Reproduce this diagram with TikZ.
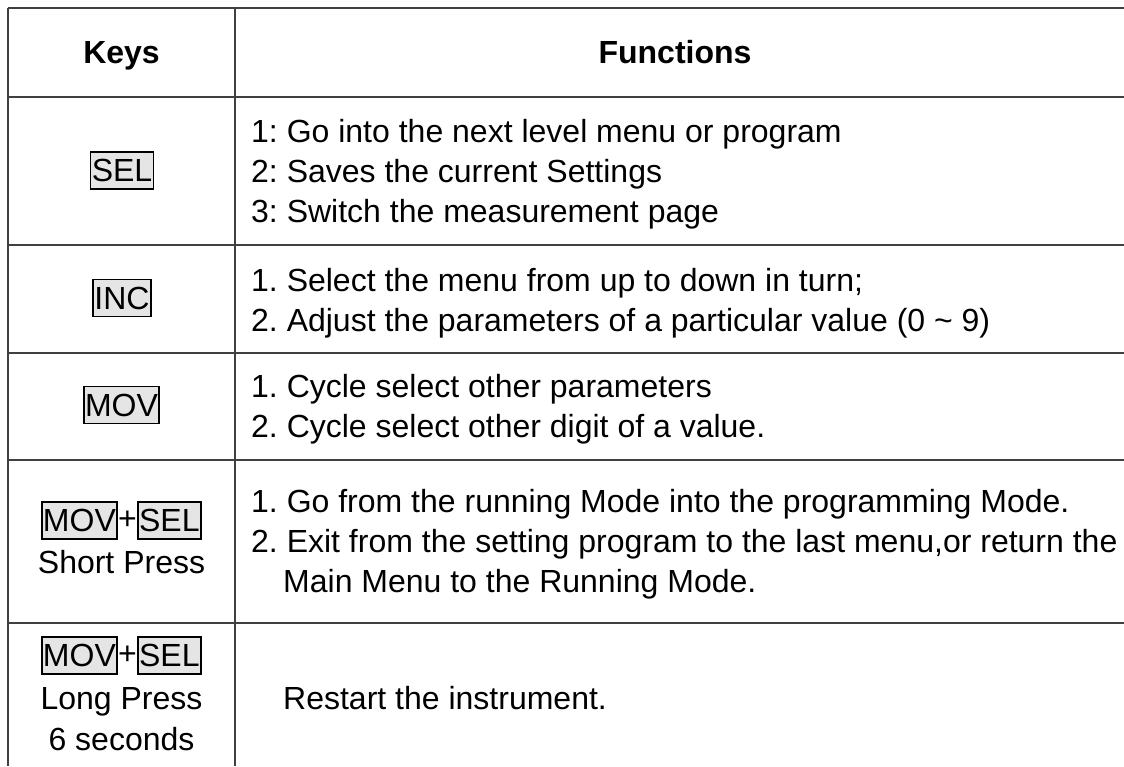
\documentclass[tikz,border=0pt]{standalone}
\usepackage{fontspec}
\setmainfont{Liberation Sans}
\usetikzlibrary{positioning}
\frenchspacing

\tikzset{
  rule/.style={line width=1.6pt, draw=black!75},
  cell/.style={font=\fontsize{32}{40}\selectfont, inner sep=0pt},
  head/.style={cell, font=\fontsize{32}{40}\selectfont\bfseries, anchor=base},
  keytext/.style={cell, anchor=base},
  func/.style={cell, anchor=base west},
  keybox/.style={cell, draw=black, line width=1.8pt, fill=black!10,
    inner xsep=1.2pt, minimum height=37pt},
  plus/.style={cell}
}

\begin{document}
\begin{tikzpicture}[x=1pt, y=-1pt]
  \useasboundingbox (0,0) rectangle (1124,766);
  \fill[white] (0,0) rectangle (1124,766);
  \path (8,8) coordinate (TL) (235,8) coordinate (TM)
        (8,766) coordinate (BL) (235,766) coordinate (BM);
  \foreach \y in {8,97,245,353,460,623}
    \draw[rule] (8,\y) -- (1124,\y);
  \draw[rule] (TL) -- (BL) (TM) -- (BM);

  \node[head] (keys) at (121.5,63) {Keys};
  \node[head] (functions) at (675,63) {Functions};

  \node[keybox] (selkey) at (122,170.5) {SEL};
  \node[func] (sel1) at (251,142) {1: Go into the next level menu or program};
  \node[func] (sel2) at (251,182) {2: Saves the current Settings};
  \node[func] (sel3) at (251,222) {3: Switch the measurement page};

  \node[keybox] (inckey) at (122,298) {INC};
  \node[func] (inc1) at (251,291) {1. Select the menu from up to down in turn;};
  \node[func] (inc2) at (251,331) {2. Adjust the parameters of a particular value (0 \textasciitilde{} 9)};

  \node[keybox] (movkey) at (121.5,405) {MOV};
  \node[func] (mov1) at (251,397) {1. Cycle select other parameters};
  \node[func] (mov2) at (251,437) {2. Cycle select other digit of a value.};

  \node[plus] (plusa) at (127.5,520.5) {+};
  \node[keybox, left=0pt of plusa] (movshort) {MOV};
  \node[keybox, right=0pt of plusa] (selshort) {SEL};
  \node[keytext] (short) at (121.5,573) {Short Press};
  \node[func] (sp1) at (251,512) {1. Go from the running Mode into the programming Mode.};
  \node[func] (sp2) at (251,552) {2. Exit from the setting program to the last menu,or return the};
  \node[func] (sp3) at (283,592) {Main Menu to the Running Mode.};

  \node[plus] (plusb) at (127.5,655.5) {+};
  \node[keybox, left=0pt of plusb] (movlong) {MOV};
  \node[keybox, right=0pt of plusb] (sellong) {SEL};
  \node[keytext] (long) at (121.5,709) {Long Press};
  \node[keytext] (secs) at (121.5,750) {6 seconds};
  \node[func] (lp1) at (283,709) {Restart the instrument.};
\end{tikzpicture}
\end{document}
